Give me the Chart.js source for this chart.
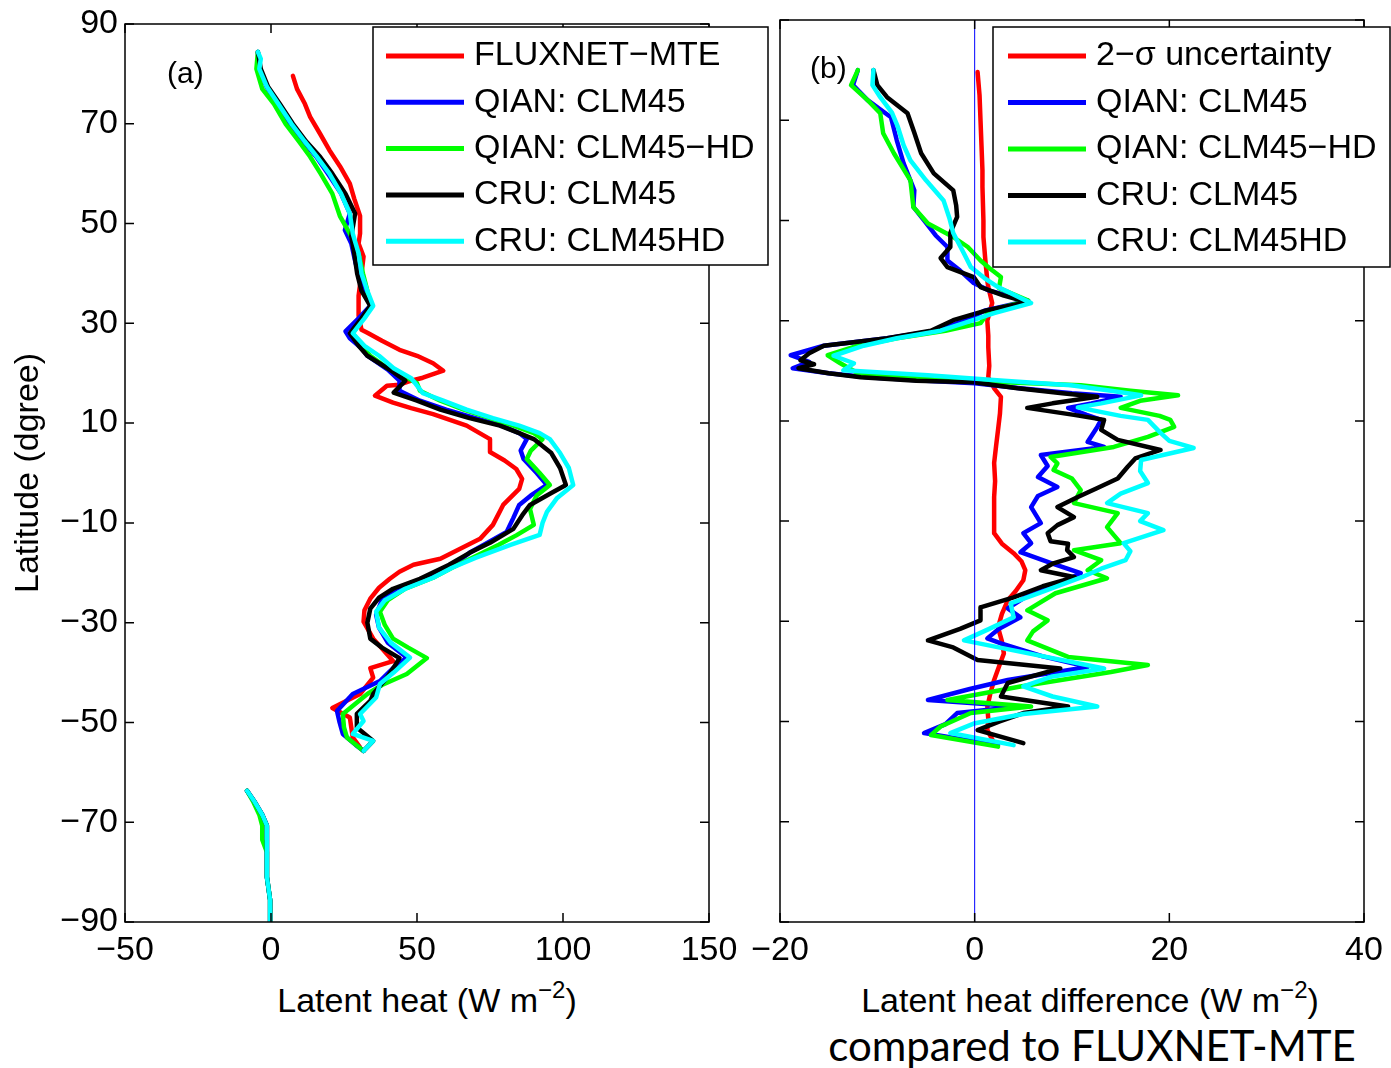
<!DOCTYPE html>
<html>
<head>
<meta charset="utf-8">
<script src="https://cdn.jsdelivr.net/npm/chart.js@4.4.1/dist/chart.umd.min.js"></script>
<style>
  body { margin: 0; background: #fff; width: 1391px; height: 1068px; position: relative; overflow: hidden;
         font-family: "Liberation Sans", Arial, sans-serif; }
  #leftChart { position: absolute; left: 0; top: 0; z-index: 2; }
  #rightChart { position: absolute; left: 735px; top: 0; z-index: 1; }
  .xtitle { position: absolute; top: 980px; font-size: 34px; line-height: 40px; text-align: center; white-space: nowrap; }
  .xtitle sup { font-size: 24px; line-height: 0; vertical-align: 14px; }
  #note { position: absolute; left: 792px; width: 600px; top: 1020px; font-family: Lato, "Open Sans", sans-serif;
          font-size: 42px; line-height: 50px; text-align: center; white-space: nowrap; }
</style>
</head>
<body>
<canvas id="leftChart" width="775" height="1068"></canvas>
<canvas id="rightChart" width="656" height="1068"></canvas>
<div class="xtitle" style="left:227px;width:400px">Latent heat (W m<sup>&minus;2</sup>)</div>
<div class="xtitle" style="left:840px;width:500px">Latent heat difference (W m<sup>&minus;2</sup>)</div>
<div id="note">compared to FLUXNET-MTE</div>
<script>
// ---- panel (a): latent heat, latitude vs value ----
const latFluxnet = [79.6, 77, 74, 71.4, 68, 64.7, 61.5, 58, 55, 51.5,
  48, 46, 43.4, 40, 35.5, 31.5, 28.7, 28.1, 26.5, 24.7,
  23.5, 22, 20.5, 19.1, 18.5, 17.7, 17.5, 15.5, 14.1, 13,
  11.8, 9.5, 6.8, 4.2, 2.5, 0.8, -1.2, -3.2, -6.4, -10.4,
  -13.2, -17.2, -18.4, -19.8, -21.2, -23, -25.2, -27.5, -29.8, -33.2,
  -37.7, -39.1, -41, -44.3, -47.1, -49, -53, -55];
const lhFluxnet = [7.5, 8.9, 11.6, 13.4, 16.8, 20, 23.6, 27, 28.5, 30.5,
  30.5, 30, 31.7, 31, 30, 30, 31, 33, 38, 44,
  50, 55.5, 59, 52, 48, 44, 39.7, 35.6, 41.8, 48,
  55.5, 67, 75, 75, 80, 84, 86, 85, 79.5, 76,
  71.6, 58, 48.8, 44, 40.7, 37, 34, 32, 31.7, 35,
  41.8, 34, 35, 30.5, 21, 27, 28, 30.5];

const latQianA = [84.4, 81, 77.4, 74, 70, 66.5, 63.4, 60, 56, 52,
  48.7, 46, 42, 38, 35, 33.5, 31, 28.4, 27, 25,
  23.5, 20.7, 18.5, 16.5, 14.5, 12.7, 11, 9.5, 8, 6.8,
  4.5, 2.8, 0, -2.4, -4.5, -6.4, -9, -11.8, -14, -16,
  -18.4, -21.2, -23.2, -25.5, -28.4, -31, -34, -37, -39, -41.7,
  -44.3, -47.7, -50, -52.3, -54.5, -55.7];
const lhQianA = [-4.5, -4, -1.5, 2, 6.5, 11, 15.5, 19.5, 24, 27,
  25.3, 27.5, 29, 31, 33, 34, 30, 25.5, 27, 31,
  33, 40, 44, 44, 51, 60, 70, 79, 85, 87.6,
  85.5, 86.5, 91, 94.5, 89, 85, 83, 80.7, 74, 68,
  62.5, 52, 43, 38, 36, 37, 40, 46.5, 42, 37.3,
  28, 22.6, 23.5, 24.6, 29, 31.7];

const latQianHdA = [84.4, 81, 77, 74, 70, 66.5, 63.4, 60, 56, 51.5,
  48, 44, 40, 36.5, 33.5, 31, 28, 25.5, 23.5, 21,
  19, 18, 16.5, 14.5, 12.7, 11, 9.5, 8, 6.8, 4.5,
  2.8, 0, -2.4, -4.5, -7.2, -10.4, -12.5, -14.4, -17, -19,
  -21, -23.2, -25.5, -27.8, -30.5, -33.2, -35, -37.1, -40.3, -42.5,
  -44.3, -48.3, -51, -53, -55.7];
const lhQianHdA = [-4.5, -5, -3, 1, 5, 9.5, 13.4, 17, 21, 23.6,
  27, 30, 31.5, 33, 34, 31.5, 28, 31, 34, 40,
  47, 50, 51, 58, 66, 75, 83, 90, 93, 89,
  87.6, 92, 95.5, 91, 88.7, 90, 84, 78, 69, 62,
  55.5, 46, 40, 37.3, 39, 41.8, 47, 53.4, 46.5, 38,
  33, 24.6, 25, 26, 31.7];

const latCruA = [84.4, 81, 77.4, 74, 70, 66.5, 63.4, 60, 56, 52,
  47.5, 44, 40, 36.5, 33.5, 31, 28, 25.5, 23.5, 20.7,
  18.5, 16.1, 14.5, 12.7, 11, 9.5, 8, 6.8, 4, 1,
  -2.4, -4, -6.4, -8.5, -11.2, -14, -16, -18.4, -21.2, -23.2,
  -25, -27.2, -30, -33.2, -35, -37.1, -39, -41, -44.3, -45.7,
  -48.3, -51, -53.7, -55.7];
const lhCruA = [-4.5, -3.5, -1, 3, 7.5, 12, 16.8, 21, 25.5, 28.8,
  27.5, 28.5, 29.5, 31, 34, 31, 27, 30, 33, 40.7,
  46, 42, 50, 58, 68, 78.4, 85, 90, 96, 99,
  101, 96, 88.7, 86, 83, 75, 68, 61, 51, 41.8,
  37, 34, 33, 34, 38, 44, 42, 39.7, 35, 34,
  29.4, 29.4, 35, 31.7];

const latCruHdA = [84.4, 83, 81, 77.4, 74, 70, 66.5, 63.4, 60, 56,
  52, 48, 44, 40, 36.5, 33.5, 31, 28, 25.5, 23.5,
  21, 19, 17.5, 16, 14.5, 12.7, 11, 9.5, 8, 6.8,
  4, 1, -2.4, -5, -7.8, -10, -12.4, -14.4, -17, -19,
  -21, -23.2, -25.5, -27.8, -31, -34, -37, -40, -42.3, -45,
  -48.3, -49.7, -52.3, -53.7, -55.7];
const lhCruHdA = [-4.5, -3.5, -4, -1.4, 2.5, 7, 11.5, 15.7, 20, 24,
  27, 28, 30, 31, 33, 35, 32, 28, 32, 37,
  42, 48, 50, 52, 59, 67, 76, 85, 92, 95.5,
  99, 102, 103.5, 98, 94.5, 93, 92, 82, 70, 62,
  55.5, 46, 39, 36, 37, 41, 47.6, 42, 37.3, 36,
  30.5, 31.7, 28, 35, 31.7];

// Antarctic segment (models only)
const latAnt = [-63.7, -66, -68.5, -70.7, -73.5, -76, -81, -85.6, -90];
const lhAntCru = [-8.2, -5.5, -3, -1.4, -1.4, -1.4, -1.4, -0.3, -0.3];
const lhAntQianHd = [-8.2, -6, -4, -3, -3, -1.4, -1.4, -0.3, -0.3];

// ---- panel (b): difference to FLUXNET-MTE ----
const latSigma = [79.6, 75, 70, 65, 60, 56.7, 50, 46.7, 42, 38,
  36.7, 33.5, 30, 27, 24.7, 21, 18.7, 16.5, 14.8, 11.5,
  8.2, 5, 1.6, -2, -5.2, -9, -12.4, -14.5, -16.4, -18,
  -19.8, -21.8, -24, -25.8, -28.5, -31.2, -34, -36.4, -39, -41.7,
  -44.5, -47.1, -49.5, -51.7, -54.3];
const sigma2 = [0.3, 0.5, 0.6, 0.7, 0.8, 0.8, 0.9, 0.9, 1.1, 1.3,
  1.4, 1.8, 1.3, 1.4, 1.4, 1.5, 1.4, 2.0, 2.7, 2.6,
  2.4, 2.2, 2.0, 2.1, 2.0, 2.0, 2.0, 2.8, 4.0, 4.8,
  5.2, 5.0, 4.2, 3.4, 2.8, 2.4, 2.8, 3.0, 2.5, 2.0,
  1.6, 1.3, 1.4, 1.3, 2.0];

const latQianB = [80, 77, 74, 70.6, 66, 61.4, 56, 52.7, 50, 47,
  44.7, 42, 40, 37.5, 36, 34, 32, 30, 28, 26.5,
  25, 23.1, 21.8, 20.5, 19.5, 18.7, 18, 17.5, 16.5, 15.5,
  14.8, 13.5, 12.6, 11.2, 10.2, 8.8, 5.8, 4.8, 3.2, 1,
  -1.2, -3.2, -5, -7.2, -10.4, -12.4, -14.4, -16.2, -18.5, -20.4, -22.5,
  -24.4, -27.4, -29.2, -31.5, -33.4, -34.4, -37, -39.1, -41.7, -43.5,
  -45.7, -47, -48.3, -50.5, -52.3, -54.7];
const dQianB = [-12, -12.5, -11, -8.6, -8, -7.3, -6.2, -6.3, -5.2, -4,
  -2.8, -2.8, -1.5, -0.1, 1.5, 5.5, 1, -1, -4, -9,
  -15.5, -18.9, -17, -18.7, -15, -11, -5, 0, 4.7, 10,
  15, 12, 9.6, 11.5, 13, 12.6, 11.6, 13.3, 6.8, 7.5,
  6.5, 8.5, 6.5, 5.8, 6.8, 5, 5.8, 4.7, 8, 10.9, 8.5,
  5.8, 3.4, 4.7, 2.5, 1.3, 2.7, 7, 11.6, 3.4, -0.5,
  -4.8, 4.7, -1.8, -3, -5.2, 2.4];

const latQianHdB = [80, 77, 74, 71.4, 67.4, 63.4, 58, 52.7, 49.4, 46.7,
  44.7, 42, 40.5, 38.7, 36.5, 34, 32, 29.5, 28, 26.5,
  25, 23.1, 21.5, 19.5, 18.5, 17.7, 17.1, 16, 15.1, 14,
  12.6, 11, 10.2, 8.8, 6.8, 4.8, 2.8, 1.5, 0.2, -1.5,
  -3.8, -6.4, -8.4, -11.2, -14.4, -15.8, -17.8, -19.8, -21.4, -24.4,
  -27.8, -29.8, -32, -33.8, -37.1, -38.7, -40.1, -43, -45.7, -47,
  -48.3, -51, -52.7, -55];
const dQianHdB = [-12, -12.7, -11, -9.7, -9.4, -8.3, -6.6, -6.3, -4.8, -2.2,
  -0.7, 0.6, 1.5, 2.7, 2.5, 5.5, 1.5, 0.6, -3, -8,
  -12, -15.1, -13.8, -12, -5, 3, 10.9, 16, 20.9, 17,
  15, 19, 20.1, 20.5, 17.8, 14.3, 7.8, 8.5, 8.1, 10,
  10.9, 10.2, 14.7, 13.6, 15, 10.2, 13, 11.6, 13.6, 8.3,
  5.4, 7.5, 6, 5.4, 9.6, 17.8, 14, 4.7, -2.8, 5.8,
  -0.4, -3.5, -4.5, 2.4];

const latCruB = [80, 77, 74.6, 71.4, 67.5, 63.4, 59.4, 56, 53, 50.7,
  47.5, 44.7, 42.5, 40.7, 38.7, 36.7, 35, 33.7, 32.1, 30.1,
  28, 26.5, 25, 23.5, 22.1, 21.3, 20.5, 19.5, 18.7, 18,
  17.7, 17, 16.5, 15.5, 14.8, 13.5, 12.6, 11.2, 10.2, 8.2,
  6.2, 4.2, 2.5, 0.8, -1.5, -3.5, -5.2, -7.2, -9.2, -10.8,
  -12.4, -14, -14.5, -15.8, -17.2, -18.5, -19.8, -21.2, -23, -25.2,
  -27.2, -29.8, -31.5, -33.8, -35.2, -37.7, -39.4, -42.3, -45, -47,
  -48.3, -50, -51.7, -54.3];
const dCruB = [-10.4, -10, -9, -6.9, -6.2, -5.5, -4.2, -2.2, -1.9, -1.8,
  -2.5, -2.5, -3.5, -2.8, -0.1, 0.6, 3, 5.4, 1.3, -2.2,
  -4.5, -9, -15.5, -17, -17.9, -16.5, -18.1, -15, -11.7, -6,
  -0.1, 2.5, 4.4, 9, 12.6, 8, 5.4, 10.2, 13.3, 13,
  14.7, 19.1, 16.5, 15.7, 14.7, 12.5, 10.6, 8.5, 10.2, 8.5,
  7.5, 7.8, 9.6, 9.5, 10.2, 8, 6.8, 10.3, 7, 4,
  0.6, 0.6, -1.5, -4.8, -2.2, 0.3, 8.8, 3.4, 2.7, 9.6,
  5, 2.5, 0.3, 5];

const latCruHdB = [80, 77, 74.6, 71.5, 68.7, 65, 62, 58, 54, 50.5,
  47.5, 43.4, 40.7, 38.5, 36.7, 33.5, 31.5, 29.5, 28, 26.5,
  25, 23, 21.5, 20.1, 19.1, 18, 17.1, 16, 15.1, 13.5,
  12.7, 11, 10.2, 7.6, 6, 4.6, 2.2, 0, -2.4, -4.5,
  -6.4, -8.4, -10, -11.8, -14.4, -16, -17.8, -19.5, -21.2, -24.2,
  -26.4, -29.2, -31.5, -33.8, -35.8, -39.4, -41, -43, -45, -47,
  -48.5, -50.4, -52.3, -54.7];
const dCruHdB = [-10.4, -10.5, -9.7, -8.5, -7.9, -7.3, -6.6, -5, -3.2, -2.6,
  -2.2, -1.1, -0.4, 1, 2.4, 5.8, 2, -1.1, -3.5, -8,
  -11.4, -14.5, -12.4, -13.5, -4.8, 3, 9.9, 14, 17.1, 13,
  10.6, 15, 17.8, 19.1, 20, 22.5, 17.1, 17, 17.8, 15,
  13.6, 17.8, 17, 19.4, 15.3, 16, 15.5, 13, 11, 6.8,
  3.7, 4, 1.5, -1.1, 4, 13.3, 8, 5, 8, 12.6,
  5, -0.1, -2.5, 4];

const zeroLineX = [0, 0];
const zeroLineLat = [-90, 90];

const namesA = ["FLUXNET\u2212MTE", "QIAN: CLM45", "QIAN: CLM45\u2212HD", "CRU: CLM45", "CRU: CLM45HD"];
const namesB = ["2\u2212\u03c3 uncertainty", "QIAN: CLM45", "QIAN: CLM45\u2212HD", "CRU: CLM45", "CRU: CLM45HD"];
const colors = ["#ff0000", "#0000ff", "#00ff00", "#000000", "#00ffff"];

const FONT = '"Liberation Sans", Arial, sans-serif';
Chart.defaults.font.family = FONT;
Chart.defaults.font.size = 34;
Chart.defaults.color = "#000";

function line(lats, vals, color, order) {
  return {
    data: lats.map((lat, i) => ({ x: vals[i], y: lat })),
    showLine: true,
    borderColor: color,
    borderWidth: 4.5,
    borderJoinStyle: "round",
    borderCapStyle: "round",
    pointRadius: 0,
    fill: false,
    order: order,
  };
}

const minus = (v) => String(v).replace("-", "\u2212");

// frame with inward ticks on all four sides
const boxFrame = {
  id: "boxFrame",
  afterDatasetsDraw(chart) {
    const { ctx, chartArea: a } = chart;
    const x = chart.scales.x, y = chart.scales.y;
    const len = 9;
    ctx.save();
    ctx.strokeStyle = "#000";
    ctx.lineWidth = 1.5;
    ctx.beginPath();
    x.ticks.forEach((t) => {
      const px = x.getPixelForValue(t.value);
      ctx.moveTo(px, a.bottom); ctx.lineTo(px, a.bottom - len);
      ctx.moveTo(px, a.top); ctx.lineTo(px, a.top + len);
    });
    y.ticks.forEach((t) => {
      const py = y.getPixelForValue(t.value);
      ctx.moveTo(a.left, py); ctx.lineTo(a.left + len, py);
      ctx.moveTo(a.right, py); ctx.lineTo(a.right - len, py);
    });
    ctx.stroke();
    ctx.strokeRect(a.left, a.top, a.width, a.height);
    ctx.restore();
  },
};

function boxLegend(names, cfg) {
  return {
    id: "boxLegend",
    afterDraw(chart) {
      const ctx = chart.ctx;
      ctx.save();
      ctx.fillStyle = "#fff";
      ctx.fillRect(cfg.x, cfg.y, cfg.w, cfg.h);
      ctx.strokeStyle = "#000";
      ctx.lineWidth = 1.5;
      ctx.strokeRect(cfg.x, cfg.y, cfg.w, cfg.h);
      ctx.font = "34px " + FONT;
      ctx.textBaseline = "middle";
      ctx.textAlign = "left";
      names.forEach((n, i) => {
        const yy = cfg.firstY + i * cfg.step;
        ctx.strokeStyle = colors[i];
        ctx.lineWidth = 5;
        ctx.beginPath();
        ctx.moveTo(cfg.x0, yy);
        ctx.lineTo(cfg.x1, yy);
        ctx.stroke();
        ctx.fillStyle = "#000";
        ctx.fillText(n, cfg.tx, yy);
      });
      ctx.font = "30px " + FONT;
      ctx.fillText(cfg.label, cfg.lx, cfg.ly);
      ctx.restore();
    },
  };
}

function axes(xmin, xmax, xstep, yWidth, yLabels) {
  return {
    x: {
      type: "linear", min: xmin, max: xmax,
      ticks: { stepSize: xstep, padding: 8, callback: minus, maxRotation: 0, autoSkip: false },
      grid: { display: false, drawTicks: false },
      border: { display: false },
      afterFit: (s) => { s.height = 146; },
    },
    y: {
      type: "linear", min: -90, max: 90,
      ticks: { stepSize: 20, padding: 7, callback: minus, autoSkip: false, display: yLabels,
               font: { size: 34, lineHeight: 1 } },
      grid: { display: false, drawTicks: false },
      border: { display: false },
      title: { display: yLabels, text: "Latitude (dgree)", padding: { top: 8, bottom: 0 } },
      afterFit: (s) => { s.width = yWidth; },
    },
  };
}

new Chart(document.getElementById("leftChart"), {
  type: "scatter",
  data: {
    datasets: [
      line(latFluxnet, lhFluxnet, colors[0], 5),
      line(latQianA, lhQianA, colors[1], 4),
      line(latQianHdA, lhQianHdA, colors[2], 3),
      line(latCruA, lhCruA, colors[3], 2),
      line(latCruHdA, lhCruHdA, colors[4], 1),
      line(latAnt, lhAntCru, colors[1], 4),
      line(latAnt, lhAntQianHd, colors[2], 3),
      line(latAnt, lhAntCru, colors[3], 2),
      line(latAnt, lhAntCru, colors[4], 1),
    ],
  },
  options: {
    responsive: false,
    animation: false,
    events: [],
    layout: { padding: { left: 0, top: 20, right: 66, bottom: 0 } },
    scales: axes(-50, 150, 50, 125, true),
    plugins: { legend: { display: false }, tooltip: { enabled: false } },
  },
  plugins: [boxFrame, boxLegend(namesA, {
    x: 373, y: 27, w: 395, h: 238, firstY: 56, step: 46.3, x0: 386, x1: 464, tx: 474,
    label: "(a)", lx: 167, ly: 75,
  })],
});

new Chart(document.getElementById("rightChart"), {
  type: "scatter",
  data: {
    datasets: [
      line(latSigma, sigma2, colors[0], 5),
      line(latQianB, dQianB, colors[1], 4),
      line(latQianHdB, dQianHdB, colors[2], 3),
      line(latCruB, dCruB, colors[3], 2),
      line(latCruHdB, dCruHdB, colors[4], 1),
      Object.assign(line(zeroLineLat, zeroLineX, "#0000ff", 0), { borderWidth: 1 }),
    ],
  },
  options: {
    responsive: false,
    animation: false,
    events: [],
    layout: { padding: { left: 0, top: 20, right: 27, bottom: 0 } },
    scales: axes(-20, 40, 20, 45, false),
    plugins: { legend: { display: false }, tooltip: { enabled: false } },
  },
  plugins: [boxFrame, boxLegend(namesB, {
    x: 258, y: 27, w: 397, h: 240, firstY: 56, step: 46.5, x0: 273, x1: 351, tx: 361,
    label: "(b)", lx: 75, ly: 70,
  })],
});
</script>
</body>
</html>
